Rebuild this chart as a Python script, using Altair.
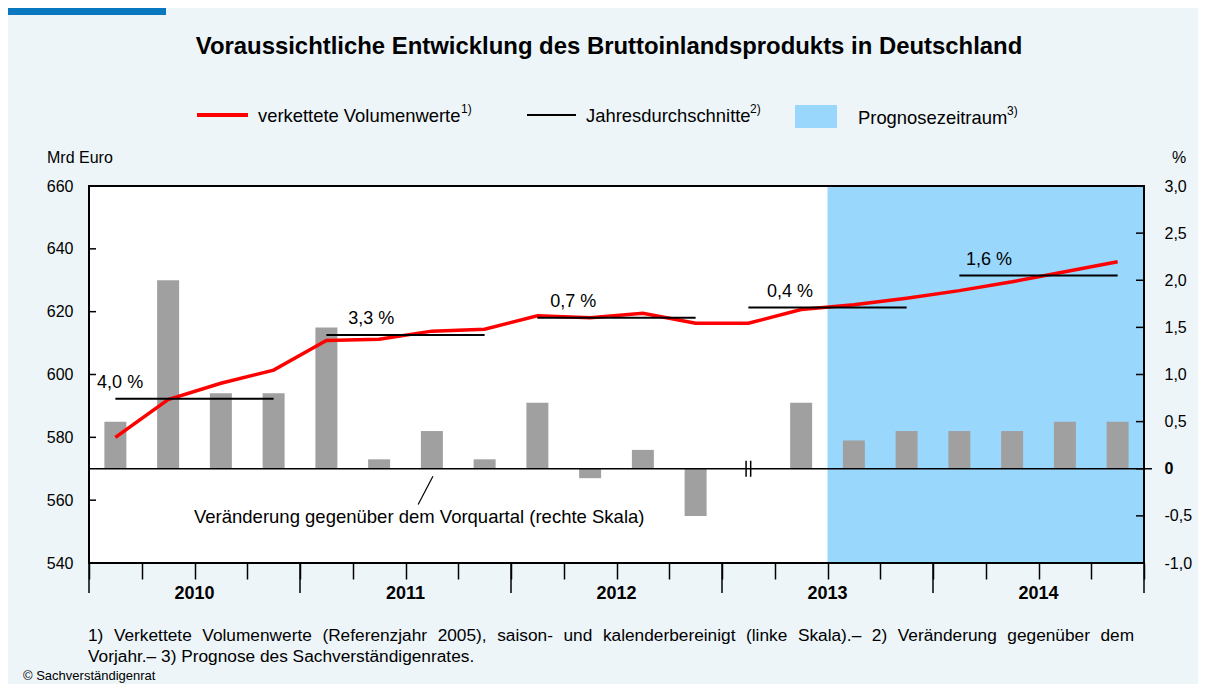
import altair as alt
import pandas as pd

# ---------------- data ----------------
years = [2010, 2011, 2012, 2013, 2014]
quarters = ["Q1", "Q2", "Q3", "Q4"]
# chained volume values, bn euro (left scale)
gdp = [580.0, 592.0, 597.2, 601.4,
       610.8, 611.2, 613.8, 614.4,
       618.7, 618.1, 619.5, 616.3,
       616.3, 620.7, 622.2, 624.3,
       626.7, 629.5, 632.7, 635.9]
# change vs previous quarter, % (right scale)
chg = [0.5, 2.0, 0.8, 0.8,
       1.5, 0.1, 0.4, 0.1,
       0.7, -0.1, 0.2, -0.5,
       0.0, 0.7, 0.3, 0.4,
       0.4, 0.4, 0.5, 0.5]
annual_avg = [592.3, 612.6, 618.1, 621.3, 631.5]
annual_labels = ["4,0 %", "3,3 %", "0,7 %", "0,4 %", "1,6 %"]
annual_label_q = [0.59, 5.35, 9.18, 13.29, 17.06]
left_ticks = [540, 560, 580, 600, 620, 640, 660]
right_ticks = [-1.0, -0.5, 0.0, 0.5, 1.0, 1.5, 2.0, 2.5, 3.0]
forecast_from = "2013 Q3"
break_quarter = "2013 Q1"
leader_q = [6.52, 6.24]
leader_pct = [-0.08, -0.38]
note_q = [6.26]
note_pct = [-0.51]
note_text = ["Veränderung gegenüber dem Vorquartal (rechte Skala)"]

title_text = "Voraussichtliche Entwicklung des Bruttoinlandsprodukts in Deutschland"
legend_texts = ["verkettete Volumenwerte", "Jahresdurchschnitte", "Prognosezeitraum"]
legend_sup = ["1)", "2)", "3)"]
foot1 = ("1) Verkettete Volumenwerte (Referenzjahr 2005), saison- und kalenderbereinigt "
         "(linke Skala).\u2013 2) Veränderung gegenüber dem")
foot2 = "Vorjahr.\u2013 3) Prognose des Sachverständigenrates."
copyright_text = "© Sachverständigenrat"

# ---------------- tables ----------------
qlabels = [f"{y} {q}" for y in years for q in quarters]
nq = len(qlabels)
dfq = pd.DataFrame({
    "quarter": qlabels,
    "pos": [i + 0.5 for i in range(nq)],
    "gdp": gdp,
    "chg": chg,
    "zero": [0.0] * nq,
})
dfa = pd.DataFrame({
    "year": years,
    "start": [i * 4 + 0.5 for i in range(len(years))],
    "end": [i * 4 + 3.5 for i in range(len(years))],
    "avg": annual_avg,
    "label": annual_labels,
    "lq": annual_label_q,
})
dfy = pd.DataFrame({"year": [str(y) for y in years],
                    "mid": [i * 4 + 2 for i in range(len(years))]})
dfyb = pd.DataFrame({"b": [i * 4 for i in range(len(years) + 1)]})
fi = qlabels.index(forecast_from)
dff = pd.DataFrame({"a": [fi], "b": [nq]})
bi = qlabels.index(break_quarter)
dfb = pd.DataFrame({"pos": [bi + 0.5], "lo": [-0.085], "hi": [0.085]})
dflt = pd.DataFrame({"v": left_ticks})
dfrt = pd.DataFrame({"v": right_ticks})
dfz = pd.DataFrame({"v": [0.0]})
dfframe = pd.DataFrame({"x0": [0], "x1": [nq], "y0": [left_ticks[0]], "y1": [left_ticks[-1]]})
dfleader = pd.DataFrame({"q": [leader_q[0]], "q2": [leader_q[1]],
                         "p": [leader_pct[0]], "p2": [leader_pct[1]]})
dfnote = pd.DataFrame({"q": note_q, "p": note_pct, "t": note_text})
one = pd.DataFrame({"k": [0]})

W, H = 1055, 377
FONT = "Liberation Sans"
RED = "#FF0000"
BLUE = "#9AD7FD"
GRAY = "#A0A0A0"

xscale = alt.Scale(domain=[0, nq], nice=False, zero=False, padding=0)
xaxis = alt.Axis(values=list(range(nq + 1)), tickSize=16, tickWidth=1.5, tickColor="black",
                 labels=False, domain=False, grid=False, title=None, orient="bottom")
ylscale = alt.Scale(domain=[left_ticks[0], left_ticks[-1]], nice=False, zero=False)
ylaxis = alt.Axis(values=left_ticks, orient="left", ticks=False, tickSize=0, domain=False,
                  grid=False, title=None, labelPadding=16, labelFont=FONT, labelFontSize=16,
                  labelColor="black", format="d")
yrscale = alt.Scale(domain=[right_ticks[0], right_ticks[-1]], nice=False, zero=False)
yraxis = alt.Axis(values=right_ticks, orient="right", ticks=False, tickSize=0, domain=False,
                  grid=False, title=None, labelPadding=20, labelAlign="left",
                  labelFont=FONT, labelFontSize=16, labelColor="black",
                  labelFontWeight={"condition": {"test": "datum.value == 0", "value": "bold"},
                                   "value": "normal"},
                  labelExpr="datum.value == 0 ? '0' : (datum.value < 0 ? '-' : '') + "
                            "replace(format(abs(datum.value), '.1f'), '.', ',')")


def X(f):
    return alt.X(f, type="quantitative", scale=xscale, axis=xaxis)


def YL(f):
    return alt.Y(f, type="quantitative", scale=ylscale, axis=ylaxis)


def YR(f):
    return alt.Y(f, type="quantitative", scale=yrscale, axis=yraxis)


# ---------------- right-scale group ----------------
forecast = alt.Chart(dff).mark_rect(color=BLUE).encode(
    x=X("a"), x2="b", y=alt.value(0), y2=alt.value(H))
bars = alt.Chart(dfq).mark_bar(color=GRAY, size=22).encode(
    x=X("pos"), y=YR("chg"), y2="zero")
zero_line = alt.Chart(dfz).mark_rule(color="black", strokeWidth=1.5).encode(
    y=YR("v"), x=alt.value(0), x2=alt.value(W + 8))
brk1 = alt.Chart(dfb).mark_rule(color="black", strokeWidth=1.5, xOffset=-2.3).encode(
    x=X("pos"), y=YR("lo"), y2="hi")
brk2 = alt.Chart(dfb).mark_rule(color="black", strokeWidth=1.5, xOffset=2.3).encode(
    x=X("pos"), y=YR("lo"), y2="hi")
rticks = alt.Chart(dfrt).mark_rule(color="black", strokeWidth=1.5).encode(
    y=YR("v"), x=alt.value(W - 8), x2=alt.value(W))
leader = alt.Chart(dfleader).mark_rule(color="black", strokeWidth=1.2).encode(
    x=X("q"), x2="q2", y=YR("p"), y2="p2")
note = alt.Chart(dfnote).mark_text(font=FONT, fontSize=18.5, color="black",
                                   align="center", baseline="middle").encode(
    x=X("q"), y=YR("p"), text="t:N")

right_group = alt.layer(forecast, bars, zero_line, brk1, brk2, rticks, leader, note)

# ---------------- left-scale group ----------------
gdp_line = alt.Chart(dfq).mark_line(color=RED, strokeWidth=3.5).encode(
    x=X("pos"), y=YL("gdp"))
avg_rules = alt.Chart(dfa).mark_rule(color="black", strokeWidth=2).encode(
    x=X("start"), x2="end", y=YL("avg"))
avg_text = alt.Chart(dfa).mark_text(font=FONT, fontSize=18, color="black",
                                    align="center", baseline="middle", dy=-16).encode(
    x=X("lq"), y=YL("avg"), text="label:N")
lticks = alt.Chart(dflt).mark_rule(color="black", strokeWidth=1.5).encode(
    y=YL("v"), x=alt.value(0), x2=alt.value(7))
frame = alt.Chart(dfframe).mark_rect(fillOpacity=0, stroke="black", strokeWidth=2).encode(
    x=X("x0"), x2="x1", y=YL("y0"), y2="y1")
year_ticks = alt.Chart(dfyb).mark_rule(color="black", strokeWidth=1.5).encode(
    x=X("b"), y=alt.value(H), y2=alt.value(H + 30))
year_text = alt.Chart(dfy).mark_text(font=FONT, fontSize=18, fontWeight="bold", color="black",
                                     align="center", baseline="middle").encode(
    x=X("mid"), y=alt.value(H + 31), text="year:N")


def txt(s, x, y, size=16, weight="normal", align="left"):
    return alt.Chart(one).mark_text(text=s, font=FONT, fontSize=size, fontWeight=weight,
                                    color="black", align=align, baseline="middle").encode(
        x=alt.value(x), y=alt.value(y))


# justified first footnote line: widen the word spaces
foot1_just = foot1.replace(" ", "\u2004 ")

topbar = alt.Chart(one).mark_rect(color="#0A78BE").encode(
    x=alt.value(-81), x2=alt.value(77), y=alt.value(-178), y2=alt.value(-171))
title = txt(title_text, 520, -139, size=23.9, weight="bold", align="center")
leg_red = alt.Chart(one).mark_rule(color=RED, strokeWidth=4).encode(
    x=alt.value(108), x2=alt.value(159), y=alt.value(-71))
leg_red_t = txt(legend_texts[0], 169, -70, size=18.4)
leg_red_s = txt(legend_sup[0], 372, -77, size=12)
leg_blk = alt.Chart(one).mark_rule(color="black", strokeWidth=2).encode(
    x=alt.value(438), x2=alt.value(487), y=alt.value(-71))
leg_blk_t = txt(legend_texts[1], 497, -70, size=18.4)
leg_blk_s = txt(legend_sup[1], 661, -77, size=12)
leg_box = alt.Chart(one).mark_rect(color=BLUE).encode(
    x=alt.value(706), x2=alt.value(748), y=alt.value(-81), y2=alt.value(-58))
leg_box_t = txt(legend_texts[2], 769, -68, size=18.4)
leg_box_s = txt(legend_sup[2], 918, -75, size=12)
mrd = txt("Mrd Euro", -42, -28, size=16)
pct = txt("%", 1090, -28, size=16, align="center")
f1 = txt(foot1_just, -1, 450, size=17.3)
f2 = txt(foot2, -1, 471, size=17.3)
cp = txt(copyright_text, -66, 490, size=13)

left_group = alt.layer(gdp_line, avg_rules, avg_text, lticks, frame, year_ticks, year_text,
                       topbar, title, leg_red, leg_red_t, leg_red_s, leg_blk, leg_blk_t,
                       leg_blk_s, leg_box, leg_box_t, leg_box_s, mrd, pct, f1, f2, cp)

chart = alt.layer(right_group, left_group).resolve_scale(y="independent").properties(
    width=W, height=H,
    padding={"left": 81, "top": 178, "right": 54, "bottom": 121},
    autosize=alt.AutoSizeParams(type="none"),
    background="#EDF5F9",
).configure_view(fill="white", stroke="transparent")

chart.save("out.html", embed_options={"renderer": "svg", "actions": False})
